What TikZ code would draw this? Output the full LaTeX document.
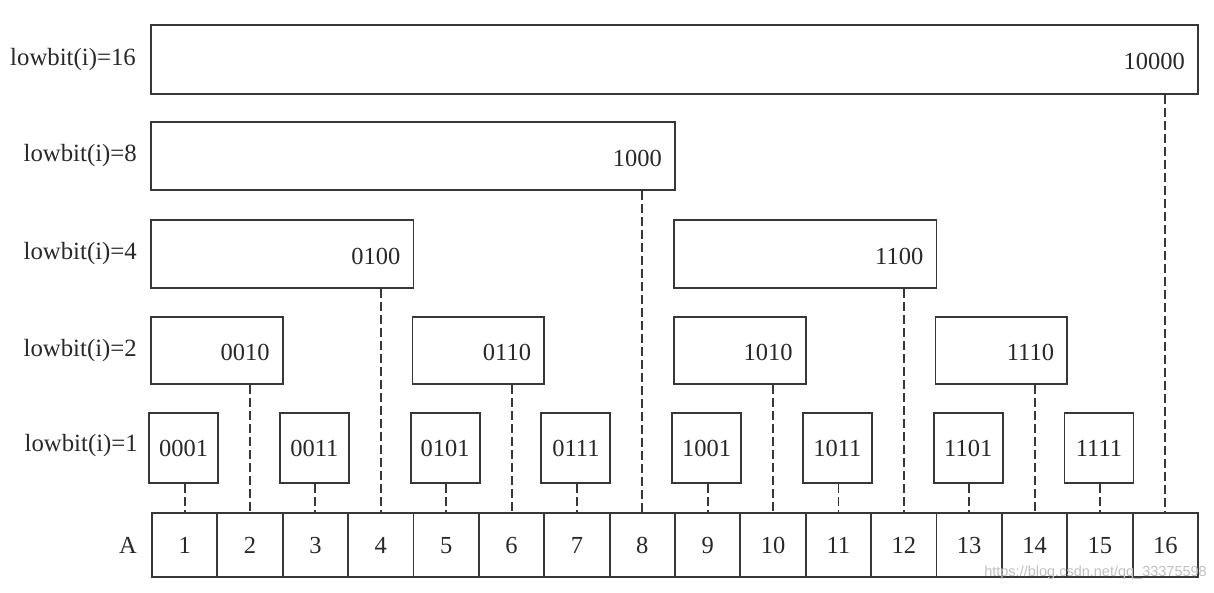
\documentclass[tikz,border=0pt]{standalone}
\usepackage{fontspec}
\setmainfont{Liberation Serif}
\newfontfamily\wmfont{Liberation Sans}
\definecolor{lc}{RGB}{55,55,55}
\definecolor{tc}{RGB}{40,40,40}
\begin{document}
\begin{tikzpicture}[x=1pt,y=-1pt,
  bx/.style={draw=lc, line width=1.9pt, inner sep=0pt, text=tc, font=\fontsize{24.5}{28}\selectfont, text height=16pt, text depth=0pt},
  cellbox/.style={bx, minimum width=65.375pt, minimum height=64pt},
  num/.style={inner sep=0pt, text=tc, font=\fontsize{24.5}{28}\selectfont, text height=16pt, text depth=0pt},
  lab/.style={inner sep=0pt, text=tc, font=\fontsize{24.8}{28}\selectfont, anchor=east},
  dsh/.style={draw=lc, line width=1.9pt, dash pattern=on 9pt off 4pt},
  wm/.style={inner sep=0pt, text=black!25, font=\wmfont\fontsize{14.5}{16}\selectfont}]
\useasboundingbox (0,0) rectangle (1214,592);
\def\cw{65.375}
% array
\foreach \i in {1,...,16}
  \node[cellbox] (c\i) at ({152+(\i-0.5)*\cw},545) {\i};
\node[num] (lA) at (128,545) {A};
% higher levels
\foreach \nm/\a/\b/\yc/\hh/\txt in {
   b16/1/16/59.5/69/10000,
   b8/1/8/156/68/1000,
   b4/1/4/254/68/0100, b12/9/12/254/68/1100,
   b2/1/2/350.5/67/0010, b6/5/6/350.5/67/0110,
   b10/9/10/350.5/67/1010, b14/13/14/350.5/67/1110}{
  \pgfmathsetmacro\xl{152+(\a-1)*\cw-1}
  \pgfmathsetmacro\xr{152+\b*\cw}
  \pgfmathsetmacro\wdd{\xr-\xl}
  \node[bx, minimum width=\wdd pt, minimum height=\hh pt] (\nm) at ({(\xl+\xr)/2},\yc) {};
  \node[num, anchor=east] (\nm t) at ([xshift=-14pt,yshift=-2pt]\nm.east) {\txt};
  \draw[dsh] (c\b.north |- \nm.south) -- (c\b.north);
}
% level 1
\foreach \i/\txt in {1/0001,3/0011,5/0101,7/0111,9/1001,11/1011,13/1101,15/1111}{
  \node[bx, minimum width=69pt, minimum height=70pt] (a\i) at ({152+(\i-0.5)*\cw-1},448) {\txt};
  \draw[dsh] (c\i.north |- a\i.south) -- (c\i.north);
}
% labels
\node[lab] (l16) at (136,59.5) {lowbit(i)=16};
\node[lab] (l8) at (137,156) {lowbit(i)=8};
\node[lab] (l4) at (137,254) {lowbit(i)=4};
\node[lab] (l2) at (137,350.5) {lowbit(i)=2};
\node[lab] (l1) at (138,446) {lowbit(i)=1};
% watermark
\node[wm, anchor=east] (wmk) at (1207,573) {https://blog.csdn.net/qq\_33375598};
\end{tikzpicture}
\end{document}
